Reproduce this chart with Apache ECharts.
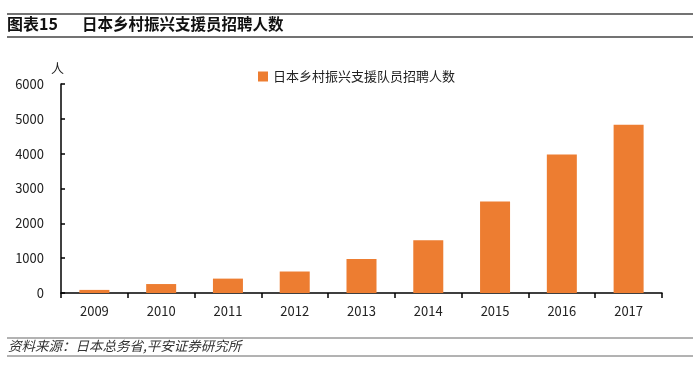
<!DOCTYPE html>
<html><head><meta charset="utf-8">
<script src="https://cdn.jsdelivr.net/npm/echarts@6/dist/echarts.min.js"></script>
<style>html,body{margin:0;padding:0;background:#fff}#c{width:700px;height:365px}</style>
</head><body><div id="c"></div>
<script>
const categories = ['2009','2010','2011','2012','2013','2014','2015','2016','2017'];
const recruits = [89, 257, 413, 617, 978, 1511, 2625, 3978, 4830];
const seriesName = '日本乡村振兴支援队员招聘人数';
const titleText = '图表15';
const titleSub = '日本乡村振兴支援员招聘人数';
const sourceText = '资料来源：日本总务省,平安证券研究所';
const unitText = '人';

const F = '"Noto Sans CJK SC", "Noto Sans", sans-serif';
const chart = echarts.init(document.getElementById('c'));
chart.setOption({
  animation: false,
  textStyle: {fontFamily: F},
  graphic: [
    {type:'line', shape:{x1:7,y1:14,x2:693,y2:14}, style:{stroke:'#444',lineWidth:1.5}},
    {type:'line', shape:{x1:7,y1:37,x2:693,y2:37}, style:{stroke:'#444',lineWidth:1.5}},
    {type:'text', left:7, top:16, style:{text:titleText, font:'bold 16px '+F, fill:'#111'}},
    {type:'text', left:82, top:16, style:{text:titleSub, font:'bold 15.5px '+F, fill:'#111'}},
    {type:'line', shape:{x1:7,y1:338,x2:693,y2:338}, style:{stroke:'#666',lineWidth:1}},
    {type:'line', shape:{x1:7,y1:356,x2:693,y2:356}, style:{stroke:'#666',lineWidth:1}},
    {type:'text', left:8, top:339, style:{text:sourceText, font:'italic 13.5px '+F, fill:'#333'}},
    {type:'text', left:51, top:62, style:{text:unitText, font:'13px '+F, fill:'#222'}}
  ],
  legend: {
    top: 65, left: 253,
    itemWidth: 10, itemHeight: 10, itemGap: 3,
    icon: 'rect',
    textStyle: {fontSize: 13, color: '#222', fontFamily: F},
    data: [seriesName]
  },
  grid: {left: 61, right: 38, top: 84, bottom: 72, containLabel: false},
  xAxis: {
    type: 'category',
    data: categories,
    boundaryGap: true,
    axisLine: {lineStyle: {color: '#000', width: 1.5}},
    axisTick: {show: true, length: 5, lineStyle: {color: '#000', width: 1.5}},
    axisLabel: {color: '#222', fontSize: 13, margin: 12, fontFamily: F}
  },
  yAxis: {
    type: 'value', min: 0, max: 6000, interval: 1000,
    axisLine: {show: true, lineStyle: {color: '#000', width: 1.5}},
    axisTick: {show: true, inside: true, length: 4, lineStyle: {color: '#000', width: 1.5}},
    splitLine: {show: false},
    axisLabel: {color: '#222', fontSize: 13, margin: 17, fontFamily: F, formatter: v => String(v)}
  },
  series: [{
    name: seriesName,
    type: 'bar',
    data: recruits,
    barWidth: 30,
    itemStyle: {color: '#ED7D31'}
  }]
});
</script></body></html>
